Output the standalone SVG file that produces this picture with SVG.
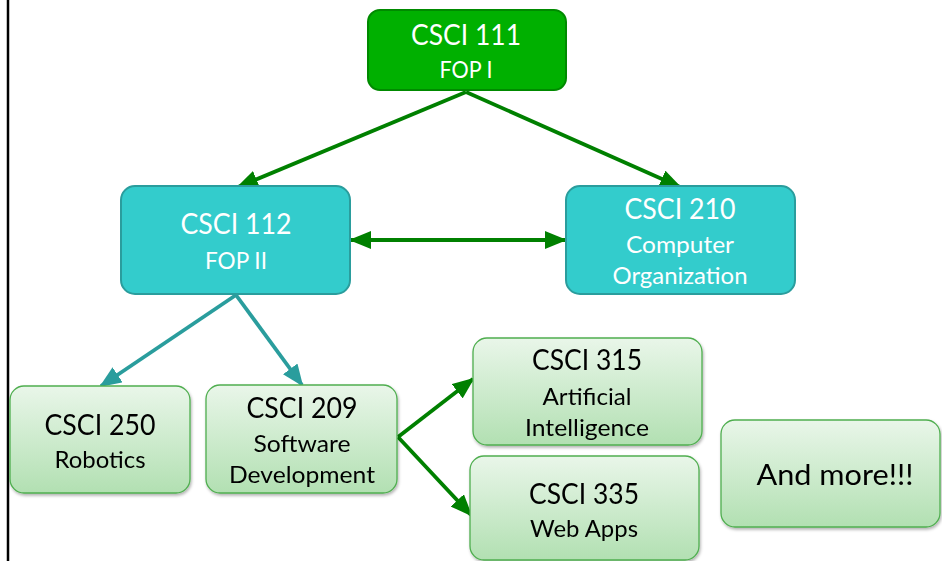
<svg xmlns="http://www.w3.org/2000/svg" width="942" height="561" viewBox="0 0 942 561">
<defs>
<style>
.t{font-family:Lato,"Open Sans","Liberation Sans",sans-serif;text-anchor:middle}
.w{fill:#ffffff}
.k{fill:#000000}
.big{font-size:28px}
.sm{font-size:22.5px}
.dark{fill:#00b000;stroke:#008a00;stroke-width:2}
.teal{fill:#33cccc;stroke:#2a9d9d;stroke-width:2}
.lite{fill:url(#lg);stroke:#4fae4f;stroke-width:1.3}
.ag{stroke:#008000;stroke-width:3.8;fill:none}
.at{stroke:#2a9d9d;stroke-width:3.8;fill:none}
</style>
<linearGradient id="lg" x1="0" y1="0" x2="0" y2="1">
<stop offset="0" stop-color="#e9f6e9"/>
<stop offset="1" stop-color="#b2e0b2"/>
</linearGradient>
<filter id="sh" x="-10%" y="-10%" width="130%" height="130%">
<feDropShadow dx="1" dy="2" stdDeviation="1.5" flood-color="#000" flood-opacity="0.3"/>
</filter>
<marker id="mg" viewBox="0 0 22 18" refX="20" refY="9" markerWidth="22" markerHeight="18" markerUnits="userSpaceOnUse" orient="auto-start-reverse">
<path d="M0,0 L22,9 L0,18 Z" fill="#008000"/>
</marker>
<marker id="mt" viewBox="0 0 22 18" refX="20" refY="9" markerWidth="22" markerHeight="18" markerUnits="userSpaceOnUse" orient="auto">
<path d="M0,0 L22,9 L0,18 Z" fill="#2a9d9d"/>
</marker>
</defs>
<rect width="942" height="561" fill="#ffffff"/>
<line x1="8" y1="0" x2="8" y2="561" stroke="#000" stroke-width="2.5"/>
<g id="connectors">
<line class="ag" x1="466" y1="92" x2="238" y2="187" marker-end="url(#mg)"/>
<line class="ag" x1="466" y1="92" x2="680" y2="187" marker-end="url(#mg)"/>
<line class="ag" x1="351" y1="240" x2="565" y2="240" marker-start="url(#mg)" marker-end="url(#mg)"/>
<line class="at" x1="236" y1="295" x2="101" y2="386" marker-end="url(#mt)"/>
<line class="at" x1="236" y1="295" x2="302" y2="385" marker-end="url(#mt)"/>
<line class="ag" x1="398" y1="437" x2="473" y2="379" marker-end="url(#mg)"/>
<line class="ag" x1="398" y1="437" x2="471" y2="515" marker-end="url(#mg)"/>
</g>
<g id="n111">
<rect class="dark" x="368" y="10" width="198" height="80" rx="12"/>
<text class="t w big" x="466" y="45" textLength="110" lengthAdjust="spacingAndGlyphs">CSCI 111</text>
<text class="t w sm" x="466" y="78" textLength="53" lengthAdjust="spacingAndGlyphs">FOP I</text>
</g>
<g id="n112">
<rect class="teal" x="121" y="186" width="229" height="108" rx="14"/>
<text class="t w big" x="236" y="234" textLength="111" lengthAdjust="spacingAndGlyphs">CSCI 112</text>
<text class="t w sm" x="236" y="269" textLength="62" lengthAdjust="spacingAndGlyphs">FOP II</text>
</g>
<g id="n210">
<rect class="teal" x="566" y="186" width="229" height="108" rx="14"/>
<text class="t w big" x="680" y="219" textLength="111" lengthAdjust="spacingAndGlyphs">CSCI 210</text>
<text class="t w sm" x="680" y="253" textLength="108" lengthAdjust="spacingAndGlyphs">Computer</text>
<text class="t w sm" x="680" y="284" textLength="135" lengthAdjust="spacingAndGlyphs">Organization</text>
</g>
<g id="n250" filter="url(#sh)">
<rect class="lite" x="10" y="386" width="180" height="107" rx="14"/>
<text class="t k big" x="100" y="435" textLength="111" lengthAdjust="spacingAndGlyphs">CSCI 250</text>
<text class="t k sm" x="100" y="468" textLength="91" lengthAdjust="spacingAndGlyphs">Robotics</text>
</g>
<g id="n209" filter="url(#sh)">
<rect class="lite" x="206" y="385" width="191" height="108" rx="14"/>
<text class="t k big" x="302" y="418" textLength="111" lengthAdjust="spacingAndGlyphs">CSCI 209</text>
<text class="t k sm" x="302" y="452" textLength="97" lengthAdjust="spacingAndGlyphs">Software</text>
<text class="t k sm" x="302" y="483" textLength="146" lengthAdjust="spacingAndGlyphs">Development</text>
</g>
<g id="n315" filter="url(#sh)">
<rect class="lite" x="473" y="338" width="229" height="107" rx="14"/>
<text class="t k big" x="587" y="370" textLength="110" lengthAdjust="spacingAndGlyphs">CSCI 315</text>
<text class="t k sm" x="587" y="405" textLength="89" lengthAdjust="spacingAndGlyphs">Artificial</text>
<text class="t k sm" x="587" y="436" textLength="124" lengthAdjust="spacingAndGlyphs">Intelligence</text>
</g>
<g id="n335" filter="url(#sh)">
<rect class="lite" x="470" y="456" width="229" height="104" rx="14"/>
<text class="t k big" x="584" y="504" textLength="110" lengthAdjust="spacingAndGlyphs">CSCI 335</text>
<text class="t k sm" x="584" y="537" textLength="108" lengthAdjust="spacingAndGlyphs">Web Apps</text>
</g>
<g id="nmore" filter="url(#sh)">
<rect class="lite" x="721" y="420" width="219" height="107" rx="14"/>
<text class="t k" style="font-size:29px" x="835" y="485" textLength="157" lengthAdjust="spacingAndGlyphs">And more!!!</text>
</g>
</svg>
